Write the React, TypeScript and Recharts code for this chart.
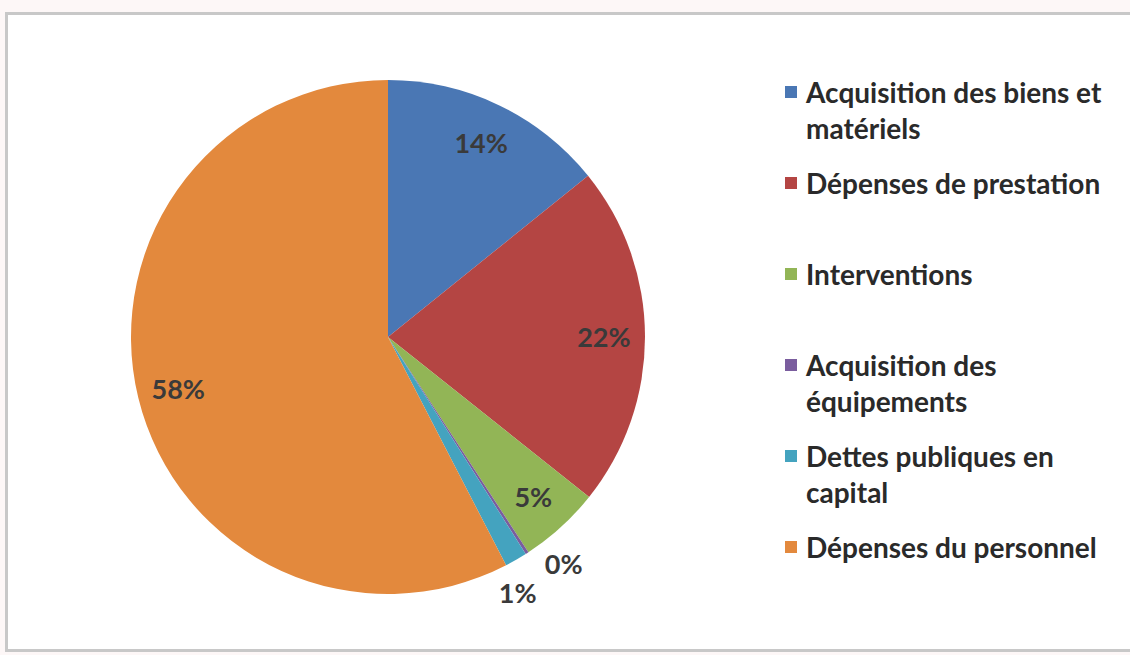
import { Legend, Pie, PieChart, Cell } from "recharts";

const categories = [
  "Acquisition des biens et matériels",
  "Dépenses de prestation",
  "Interventions",
  "Acquisition des équipements",
  "Dettes publiques en capital",
  "Dépenses du personnel",
];
const shares = [14.2, 21.5, 5.1, 0.2, 1.4, 57.6];
const colors = ["#4a77b4", "#b44543", "#92b556", "#7a5d9e", "#44a3bf", "#e3893d"];

const data = categories.map((name, i) => ({ name, value: shares[i] }));

const RAD = Math.PI / 180;
const FONT = "Lato, 'Open Sans', sans-serif";

const renderLabel = (props: any) => {
  const { cx, cy, midAngle, outerRadius, percent, index } = props;
  const small = percent < 0.03;
  const r = small ? outerRadius + 30 : outerRadius * 0.84;
  // nudge the two tiny slices' labels apart
  const ang = small ? midAngle + (index === 3 ? 5 : -3) : midAngle;
  const x = cx + r * Math.cos(-ang * RAD);
  const y = cy + r * Math.sin(-ang * RAD);
  return (
    <text
      x={x}
      y={y}
      fill="#3a3a3a"
      textAnchor="middle"
      dominantBaseline="central"
      fontSize={27}
      fontWeight="bold"
      fontFamily={FONT}
    >
      {Math.round(percent * 100)}%
    </text>
  );
};

const renderLegend = (props: any) => {
  const payload = [...(props.payload || [])].sort(
    (a: any, b: any) => categories.indexOf(a.value) - categories.indexOf(b.value)
  );
  return (
    <div style={{ fontFamily: FONT }}>
      {payload.map((entry: any, i: number) => (
        <div
          key={i}
          style={{ display: "flex", alignItems: "flex-start", height: 91 }}
        >
          <div
            style={{
              width: 12,
              height: 12,
              background: entry.color,
              marginTop: 12,
              marginRight: 9,
              flexShrink: 0,
            }}
          />
          <div
            style={{
              fontSize: 28,
              fontWeight: "bold",
              lineHeight: "36px",
              color: "#2a2a2a",
              width: 310,
            }}
          >
            {entry.value}
          </div>
        </div>
      ))}
    </div>
  );
};

export default function App() {
  return (
    <div
      style={{
        position: "fixed",
        left: 0,
        top: 0,
        width: 1130,
        height: 655,
        background: "#fdf7f7",
      }}
    >
      <div
        style={{
          position: "absolute",
          left: 5,
          top: 12,
          width: 1140,
          height: 640,
          background: "#ffffff",
          border: "3px solid #c8c8c8",
          boxSizing: "border-box",
        }}
      />
      <div style={{ position: "absolute", left: 0, top: 0 }}>
        <PieChart width={1130} height={655}>
          <Pie
            data={data}
            dataKey="value"
            nameKey="name"
            cx={383}
            cy={332}
            outerRadius={257}
            startAngle={90}
            endAngle={-270}
            stroke="none"
            label={renderLabel}
            labelLine={false}
            isAnimationActive={false}
          >
            {data.map((d, i) => (
              <Cell key={d.name} fill={colors[i]} />
            ))}
          </Pie>
          <Legend
            content={renderLegend}
            layout="vertical"
            wrapperStyle={{ position: "absolute", left: 785, top: 74, width: 340 }}
          />
        </PieChart>
      </div>
    </div>
  );
}
